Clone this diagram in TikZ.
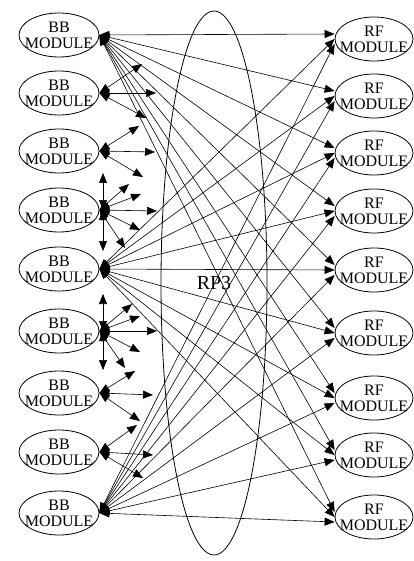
\documentclass[tikz,border=0pt]{standalone}
\usepackage{fontspec}
\setmainfont{Liberation Serif}
\usetikzlibrary{arrows.meta,shapes.geometric}
\begin{document}
\begin{tikzpicture}[x=1pt,y=-1pt,
  mod/.style={draw, ellipse, minimum width=80pt, minimum height=44pt, inner sep=0pt, line width=0.8pt},
  modtxt/.style={inner sep=0pt, align=center, font=\fontsize{16}{16}\selectfont},
  link/.style={line width=0.6pt, {Triangle[length=10pt,width=8pt]}-{Triangle[length=10pt,width=8pt]}},
  big/.style={draw, ellipse, line width=0.8pt, minimum width=106pt, minimum height=544pt, inner sep=0pt, font=\fontsize{20}{22}\selectfont}
]
\useasboundingbox (0,0) rectangle (414,561);
% central ellipse
\node[big] (rp3) at (214,283) {RP3};
% BB modules
\foreach \i/\y in {1/35,2/93,3/151,4/210,5/269,6/331,7/393,8/452,9/513}{
  \node[mod] (bb\i) at (59,\y) {};
  \node[modtxt] (bbt\i) at (59,\y) {BB\\MODULE};
}
% RF modules
\foreach \i/\y in {1/39,2/96,3/153,4/211,5/270,6/333,7/398,8/455,9/517}{
  \node[mod, minimum width=78pt] (rf\i) at (374,\y) {};
  \node[modtxt] (rft\i) at (374,\y) {RF\\MODULE};
}
% hub links
\foreach \h/\dy in {1/5pt,5/0pt,9/-5pt}{
  \foreach \r in {1,...,9}{
    \draw[link] (bb\h.east) -- ([yshift=\dy]rf\r.west);
  }
}
% stub end coordinates
\coordinate (s2a) at (142,64);  \coordinate (s2b) at (156,93);  \coordinate (s2c) at (146,118);
\coordinate (s3a) at (139,126); \coordinate (s3b) at (155,152); \coordinate (s3c) at (143,177);
\coordinate (v4) at (103,210);
\coordinate (s4u) at (103,173); \coordinate (s4a) at (129,184); \coordinate (s4b) at (141,194);
\coordinate (s4c) at (157,211); \coordinate (s4d) at (140,230); \coordinate (s4e) at (125,248);
\coordinate (s4n) at (103,251);
\coordinate (v6) at (103,331);
\coordinate (s6u) at (103,294); \coordinate (s6a) at (132,304); \coordinate (s6b) at (140,316);
\coordinate (s6c) at (157,331); \coordinate (s6d) at (140,352); \coordinate (s6e) at (125,368);
\coordinate (s6n) at (103,370);
\coordinate (s7a) at (135,371); \coordinate (s7b) at (153,395); \coordinate (s7c) at (140,421);
\coordinate (s8a) at (137,425); \coordinate (s8b) at (153,455); \coordinate (s8c) at (143,478);
% stubs
\foreach \k in {a,b,c}{
  \draw[link] (bb2.east) -- (s2\k);
  \draw[link] (bb3.east) -- (s3\k);
  \draw[link] (bb7.east) -- (s7\k);
  \draw[link] (bb8.east) -- (s8\k);
}
\foreach \k in {a,b,c,d,e}{
  \draw[link] (bb4.east) -- (s4\k);
  \draw[link] (bb6.east) -- (s6\k);
}
\draw[link] (v4) -- (s4u);
\draw[link] (v4) -- (s4n);
\draw[link] (v6) -- (s6u);
\draw[link] (v6) -- (s6n);
\end{tikzpicture}
\end{document}
